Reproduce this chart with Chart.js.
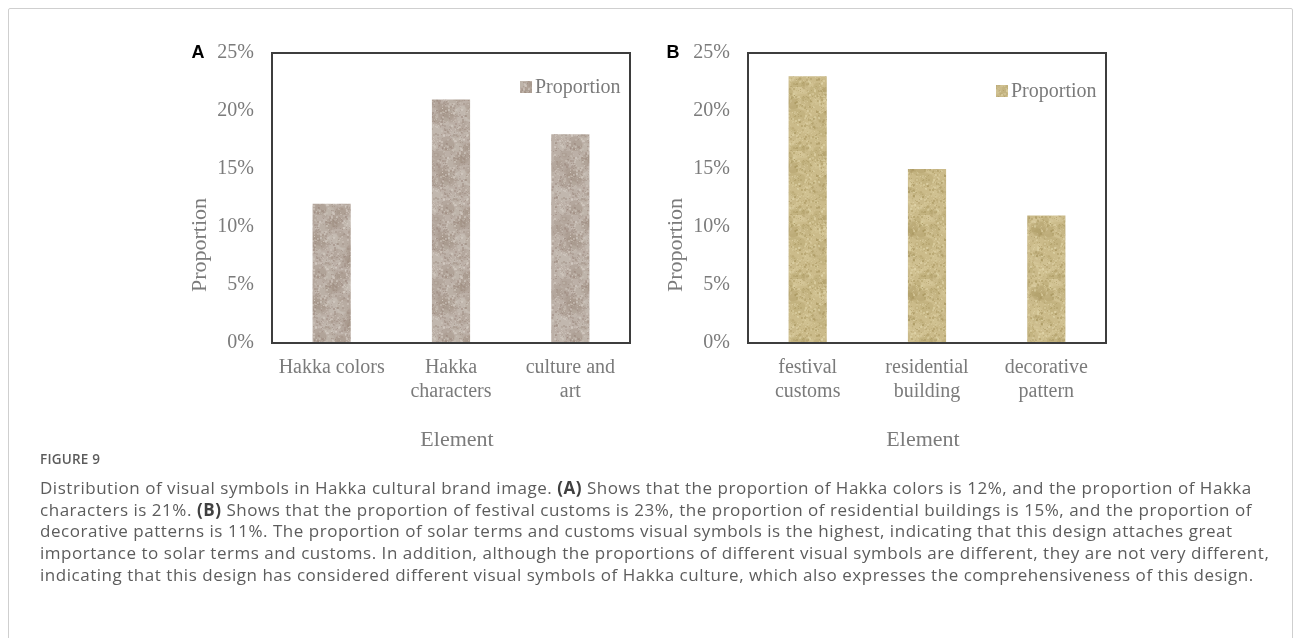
<!DOCTYPE html>
<html>
<head>
<meta charset="utf-8">
<script src="https://cdn.jsdelivr.net/npm/chart.js@4/dist/chart.umd.min.js"></script>
<style>
  body { margin: 0; background: #fff; width: 1293px; height: 638px; overflow: hidden; position: relative; }
  #frame { position: absolute; left: 8px; top: 8px; width: 1283px; height: 700px; border: 1px solid #cfcfcf; border-radius: 2px; }
  .panel { position: absolute; top: 23px; width: 470px; height: 437px; }
  #caption { position: absolute; left: 40px; top: 450px; font-family: "Open Sans", sans-serif; color: #5c5c5c; white-space: nowrap; }
  #caption .fig { font-size: 13.5px; font-weight: 600; letter-spacing: 0.2px; margin-bottom: 9px; }
  #caption .body { font-size: 17px; letter-spacing: 0.53px; line-height: 21.7px; }
  #caption b { font-weight: 700; color: #404040; }
</style>
</head>
<body>
<div id="frame"></div>
<div class="panel" style="left:170px"><canvas id="chart-a"></canvas></div>
<div class="panel" style="left:646px"><canvas id="chart-b"></canvas></div>
<div id="caption">
  <div class="fig">FIGURE 9</div>
  <div class="body">
    Distribution of visual symbols in Hakka cultural brand image. <b>(A)</b> Shows that the proportion of Hakka colors is 12%, and the proportion of Hakka<br>
    characters is 21%. <b>(B)</b> Shows that the proportion of festival customs is 23%, the proportion of residential buildings is 15%, and the proportion of<br>
    decorative patterns is 11%. The proportion of solar terms and customs visual symbols is the highest, indicating that this design attaches great<br>
    importance to solar terms and customs. In addition, although the proportions of different visual symbols are different, they are not very different,<br>
    indicating that this design has considered different visual symbols of Hakka culture, which also expresses the comprehensiveness of this design.
  </div>
</div>
<script>
// data
const labelsA = [['Hakka colors'], ['Hakka', 'characters'], ['culture and', 'art']]
const valuesA = [12, 21, 18]
const labelsB = [['festival', 'customs'], ['residential', 'building'], ['decorative', 'pattern']]
const valuesB = [23, 15, 11]
const yTicks = { min: 0, max: 25, step: 5 }

const SERIF = '"Liberation Serif", "Times New Roman", serif'
const GREY = '#7b7b7b'

// stone-ish texture for the bars (seeded so it looks the same every run)
function makeTexture(base, dark, light, seed) {
    let s = seed
    const rnd = () => { s = (s * 16807) % 2147483647; return s / 2147483647 }
    const c = document.createElement('canvas')
    c.width = 64; c.height = 64
    const g = c.getContext('2d')
    g.fillStyle = base
    g.fillRect(0, 0, 64, 64)
    for (let i = 0; i < 60; i++) { // big soft blotches
        g.globalAlpha = 0.22
        g.fillStyle = rnd() < 0.5 ? dark : light
        g.beginPath()
        g.arc(rnd() * 64, rnd() * 64, 2 + rnd() * 6, 0, Math.PI * 2)
        g.fill()
    }
    for (let i = 0; i < 700; i++) { // fine grain
        g.globalAlpha = 0.2 + rnd() * 0.35
        g.fillStyle = rnd() < 0.5 ? dark : light
        const sz = rnd() < 0.6 ? 1 : 2
        g.fillRect(Math.floor(rnd() * 64), Math.floor(rnd() * 64), sz, sz)
    }
    return g.createPattern(c, 'repeat')
}

const decor = {
    id: 'decor',
    afterDraw(chart, args, o) {
        const { ctx, chartArea: a } = chart
        ctx.save()
        // plot frame
        ctx.strokeStyle = '#3d3d3d'
        ctx.lineWidth = 2
        ctx.strokeRect(a.left, a.top, a.right - a.left, a.bottom - a.top)
        // panel letter
        ctx.fillStyle = '#000'
        ctx.font = 'bold 18px "Liberation Sans", Arial, sans-serif'
        ctx.textAlign = 'center'
        ctx.textBaseline = 'middle'
        ctx.fillText(o.letter, o.letterX, 30)
        // legend inside plot
        const ds = chart.data.datasets[0]
        ctx.fillStyle = ds.backgroundColor
        ctx.fillRect(o.legX, o.legY - 6, 12, 12)
        ctx.fillStyle = GREY
        ctx.font = '20px ' + SERIF
        ctx.textAlign = 'left'
        ctx.fillText(ds.label, o.legX + 15, o.legY + 1)
        // axis titles
        ctx.font = '22px ' + SERIF
        ctx.textAlign = 'center'
        ctx.fillText('Element', o.xTitleX, 417)
        ctx.translate(30, 222)
        ctx.rotate(-Math.PI / 2)
        ctx.fillText('Proportion', 0, 0)
        ctx.restore()
    }
}

function makeChart(canvas, labels, values, texture, o) {
    return new Chart(canvas.getContext('2d'), {
        type: 'bar',
        data: {
            labels: labels,
            datasets: [{
                label: 'Proportion',
                data: values,
                backgroundColor: texture,
                borderWidth: 0,
                barPercentage: 0.32,
                categoryPercentage: 1
            }]
        },
        options: {
            responsive: true,
            maintainAspectRatio: false,
            animation: false,
            layout: { padding: { top: 16, right: 10, left: 0, bottom: 0 } },
            plugins: { legend: { display: false }, tooltip: { enabled: false }, decor: o },
            scales: {
                x: {
                    grid: { display: false, drawTicks: false },
                    border: { display: false },
                    ticks: { color: GREY, font: { family: SERIF, size: 20 }, padding: 13, maxRotation: 0 },
                    afterFit: s => { s.height = 117 }
                },
                y: {
                    min: yTicks.min, max: yTicks.max,
                    grid: { display: false, drawTicks: false },
                    border: { display: false },
                    ticks: { stepSize: yTicks.step, color: GREY, font: { family: SERIF, size: 20 }, padding: 18,
                             callback: v => v + '%' },
                    afterFit: s => { s.width = 102 }
                }
            }
        },
        plugins: [decor]
    })
}

function main() {
    const texA = makeTexture('#bcb0a7', '#9a877c', '#d8d0c8', 1234)
    const texB = makeTexture('#cbbb8a', '#a8965f', '#e2d7ac', 4321)
    makeChart(document.querySelector('#chart-a'), labelsA, valuesA, texA,
        { letter: 'A', letterX: 28, legX: 350, legY: 64, xTitleX: 287 })
    makeChart(document.querySelector('#chart-b'), labelsB, valuesB, texB,
        { letter: 'B', letterX: 27, legX: 350, legY: 68, xTitleX: 277 })
}

main()
</script>
</body>
</html>
